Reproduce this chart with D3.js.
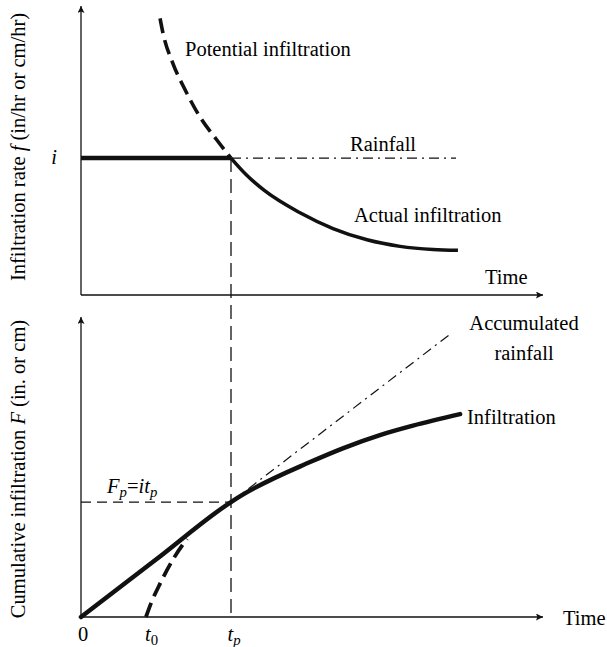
<!DOCTYPE html>
<html>
<head>
<meta charset="utf-8">
<script src="https://cdn.jsdelivr.net/npm/d3@7/dist/d3.min.js"></script>
<style>
  html, body { margin: 0; padding: 0; background: #fff; }
  svg { display: block; }
  text { font-family: "Liberation Serif", "Times New Roman", serif; fill: #000; }
</style>
</head>
<body>
<script>
// Time in units of ponding time tp; rate in units of rainfall intensity i.
const timeTickLabels = ["0", "t0", "tp"];
const timeTickValues = [0, 0.45, 1];

const rainRate = 1;          // i
const pondingTime = 1;       // tp
const rainEnd = 2.5;         // end of drawn rainfall lines

// Infiltration rate curves (top panel)
const potentialRateT = [0.527, 0.547, 0.613, 0.693, 0.793, 0.907, 1.0];
const potentialRateF = [2.02, 1.91, 1.69, 1.50, 1.30, 1.13, 1.0];
const actualRateT = [1.0, 1.1, 1.22, 1.46, 1.68, 1.907, 2.127, 2.347, 2.513];
const actualRateF = [1.0, 0.88, 0.765, 0.60, 0.485, 0.403, 0.355, 0.332, 0.326];

// Cumulative infiltration curves (bottom panel)
const cumInfilT = [0, 0.5, 1.0, 1.073, 1.527, 1.75, 1.993, 2.213, 2.527];
const cumInfilF = [0, 0.5, 1.0, 1.06, 1.348, 1.47, 1.583, 1.665, 1.765];
const cumPotentialT = [0.433, 0.47, 0.527, 0.613, 0.707];
const cumPotentialF = [0, 0.13, 0.29, 0.5, 0.68];

const W = 607, H = 647;
const svg = d3.select("body").append("svg").attr("width", W).attr("height", H);

const x = d3.scaleLinear().domain([0, 3.08]).range([81, 543]);
const yTop = d3.scaleLinear().domain([0, 2.11]).range([295, 6]);
const yBot = d3.scaleLinear().domain([0, 2.61]).range([617, 317]);

const ink = "#111";

// arrowhead
svg.append("defs").append("marker")
  .attr("id", "arrow").attr("viewBox", "0 0 10 10")
  .attr("refX", 10).attr("refY", 5)
  .attr("markerWidth", 7).attr("markerHeight", 7)
  .attr("markerUnits", "userSpaceOnUse")
  .attr("orient", "auto")
  .append("path").attr("d", "M0,0 L10,5 L0,10 L2,5 Z").attr("fill", ink);

function axisPair(yScale) {
  const [x0, x1] = x.range();
  const [y0, y1] = yScale.range();
  svg.append("line").attr("x1", x0).attr("y1", y0).attr("x2", x1).attr("y2", y0)
    .attr("stroke", ink).attr("stroke-width", 1.3).attr("marker-end", "url(#arrow)");
  svg.append("line").attr("x1", x0).attr("y1", y0).attr("x2", x0).attr("y2", y1)
    .attr("stroke", ink).attr("stroke-width", 1.3).attr("marker-end", "url(#arrow)");
}
axisPair(yTop);
axisPair(yBot);

const zip = (a, b) => a.map((v, k) => [v, b[k]]);
const lineTop = d3.line().x(d => x(d[0])).y(d => yTop(d[1])).curve(d3.curveMonotoneX);
const lineBot = d3.line().x(d => x(d[0])).y(d => yBot(d[1])).curve(d3.curveMonotoneX);
const straightTop = d3.line().x(d => x(d[0])).y(d => yTop(d[1]));
const straightBot = d3.line().x(d => x(d[0])).y(d => yBot(d[1]));

const dashDot = "10,5,2,5";

// ---- top panel ----
// rainfall at rate i, thick until ponding, dash-dot afterwards
svg.append("path").attr("d", straightTop([[0, rainRate], [pondingTime, rainRate]]))
  .attr("fill", "none").attr("stroke", ink).attr("stroke-width", 4.5);
svg.append("path").attr("d", straightTop([[pondingTime, rainRate], [rainEnd, rainRate]]))
  .attr("fill", "none").attr("stroke", ink).attr("stroke-width", 1.2)
  .attr("stroke-dasharray", dashDot);

// potential infiltration (dashed) and actual infiltration (solid)
svg.append("path").attr("d", lineTop(zip(potentialRateT, potentialRateF)))
  .attr("fill", "none").attr("stroke", ink).attr("stroke-width", 3.6)
  .attr("stroke-dasharray", "15,7");
svg.append("path").attr("d", lineTop(zip(actualRateT, actualRateF)))
  .attr("fill", "none").attr("stroke", ink).attr("stroke-width", 3.5);

// vertical guide at tp through both panels
svg.append("line")
  .attr("x1", x(pondingTime)).attr("x2", x(pondingTime))
  .attr("y1", yTop(rainRate)).attr("y2", yBot(0))
  .attr("stroke", ink).attr("stroke-width", 1.3).attr("stroke-dasharray", "14,7");

// ---- bottom panel ----
const Fp = rainRate * pondingTime;
svg.append("path").attr("d", straightBot([[0, Fp], [pondingTime, Fp]]))
  .attr("fill", "none").attr("stroke", ink).attr("stroke-width", 1.3)
  .attr("stroke-dasharray", "10,6");

svg.append("path").attr("d", straightBot([[pondingTime, rainRate * pondingTime], [rainEnd - 0.03, rainRate * (rainEnd - 0.03)]]))
  .attr("fill", "none").attr("stroke", ink).attr("stroke-width", 1.2)
  .attr("stroke-dasharray", dashDot);

svg.append("path").attr("d", lineBot(zip(cumPotentialT, cumPotentialF)))
  .attr("fill", "none").attr("stroke", ink).attr("stroke-width", 3.8)
  .attr("stroke-dasharray", "15,7");

svg.append("path").attr("d", lineBot(zip(cumInfilT, cumInfilF)))
  .attr("fill", "none").attr("stroke", ink).attr("stroke-width", 4.5)
  .attr("stroke-linecap", "round");

// ---- text ----
const fs = 20.5;
function label(px, py, parts, anchor) {
  const t = svg.append("text").attr("x", px).attr("y", py)
    .attr("font-size", fs).attr("text-anchor", anchor || "start");
  parts.forEach(p => {
    const s = t.append("tspan").text(p.text);
    if (p.italic) s.attr("font-style", "italic");
    if (p.sub) s.attr("font-size", fs * 0.72).attr("dy", p.dy || 4);
    if (p.up) s.attr("dy", p.up);
  });
  return t;
}

label(185, 56, [{ text: "Potential infiltration" }]);
label(350, 151, [{ text: "Rainfall" }]);
label(354, 222, [{ text: "Actual infiltration" }]);
label(485, 284, [{ text: "Time" }]);
label(54, 164, [{ text: "i", italic: true }], "middle");

label(524, 330, [{ text: "Accumulated" }], "middle");
label(524, 360, [{ text: "rainfall" }], "middle");
label(467, 424, [{ text: "Infiltration" }]);
label(563, 625, [{ text: "Time" }]);

label(107, 493, [
  { text: "F", italic: true }, { text: "p", italic: true, sub: true, dy: 4 },
  { text: "=", up: -4 }, { text: "it", italic: true },
  { text: "p", italic: true, sub: true, dy: 4 }
]);

// time tick labels
timeTickLabels.forEach((lab, k) => {
  const px = x(timeTickValues[k]) + (k === 0 ? 2 : 3);
  if (k === 0) {
    label(px, 641, [{ text: lab }], "middle");
  } else {
    label(px, 641, [
      { text: lab[0], italic: true },
      { text: lab.slice(1), italic: lab[1] !== "0", sub: true, dy: 4 }
    ], "middle");
  }
});

// rotated y-axis titles
function yTitle(cy, parts) {
  const t = svg.append("text")
    .attr("transform", `translate(25,${cy}) rotate(-90)`)
    .attr("font-size", fs).attr("text-anchor", "middle");
  parts.forEach(p => {
    const s = t.append("tspan").text(p.text);
    if (p.italic) s.attr("font-style", "italic");
  });
}
yTitle(147, [{ text: "Infiltration rate " }, { text: "f", italic: true }, { text: " (in/hr or cm/hr)" }]);
yTitle(469, [{ text: "Cumulative infiltration  " }, { text: "F", italic: true }, { text: "  (in. or cm)" }]);
</script>
</body>
</html>
